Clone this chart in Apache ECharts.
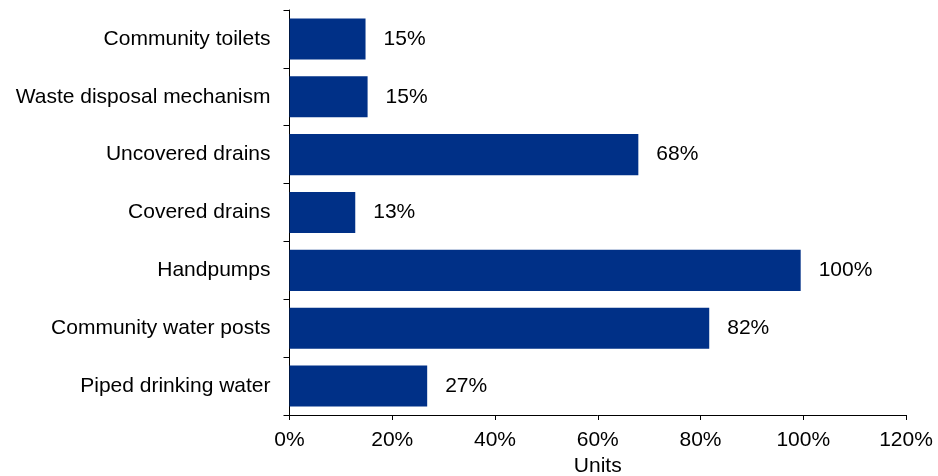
<!DOCTYPE html>
<html>
<head>
<meta charset="utf-8">
<script src="https://cdn.jsdelivr.net/npm/echarts@6/dist/echarts.min.js"></script>
<style>
html,body{margin:0;padding:0;background:#fff;}
#chart{width:938px;height:476px;}
</style>
</head>
<body>
<div id="chart"></div>
<script>
const categories = ["Piped drinking water","Community water posts","Handpumps","Covered drains","Uncovered drains","Waste disposal mechanism","Community toilets"];
const values = [26.8, 81.7, 99.5, 12.8, 67.9, 15.2, 14.8];
const xTicks = [0, 20, 40, 60, 80, 100, 120];
const axisName = "Units";

const font = "Liberation Sans, Arial, sans-serif";
const chart = echarts.init(document.getElementById('chart'));
chart.setOption({
  animation: false,
  backgroundColor: '#fff',
  grid: {left: 289.5, right: 32, top: 10, bottom: 61, containLabel: false, outerBoundsMode: 'none'},
  xAxis: {
    type: 'value',
    min: xTicks[0], max: xTicks[xTicks.length-1], interval: 20,
    name: axisName, nameLocation: 'middle', nameGap: 41, nameMoveOverlap: false,
    nameTextStyle: {fontFamily: font, fontSize: 21, color: '#000'},
    axisLine: {show: true, lineStyle: {color: '#000', width: 1}},
    axisTick: {show: true, length: 5, lineStyle: {color: '#000'}},
    splitLine: {show: false},
    axisLabel: {formatter: v => v + '%', fontFamily: font, fontSize: 21, color: '#000', margin: 15}
  },
  yAxis: {
    type: 'category',
    data: categories,
    axisLine: {show: true, lineStyle: {color: '#000', width: 1}},
    axisTick: {show: true, length: 6, lineStyle: {color: '#000'}},
    axisLabel: {fontFamily: font, fontSize: 21, color: '#000', margin: 19}
  },
  series: [{
    type: 'bar',
    data: values,
    barCategoryGap: '29%',
    itemStyle: {color: '#003087'},
    label: {
      show: true, position: 'right', distance: 18,
      formatter: p => Math.round(p.value) + '%',
      fontFamily: font, fontSize: 21, color: '#000'
    }
  }]
});
</script>
</body>
</html>
